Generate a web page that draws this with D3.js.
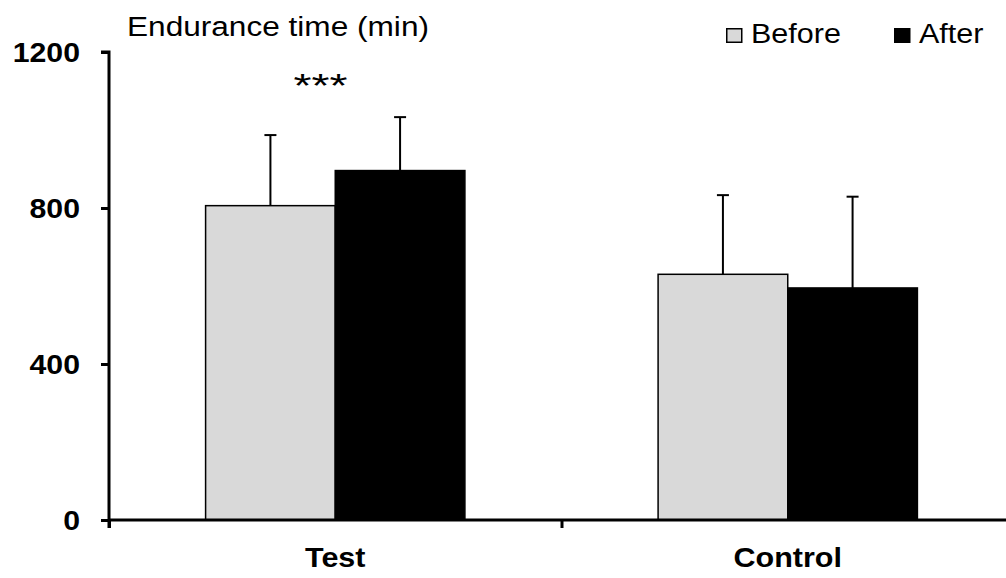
<!DOCTYPE html>
<html>
<head>
<meta charset="utf-8">
<script src="https://cdn.jsdelivr.net/npm/d3@7"></script>
<style>
  body { margin: 0; background: #fff; }
  svg { display: block; font-family: "Liberation Sans", Arial, sans-serif; }
</style>
</head>
<body>
<svg id="chart" width="1006" height="578"></svg>
<script>
// data
var categories = ["Test", "Control"];
var seriesNames = ["Before", "After"];
var beforeMeans = [806, 630];
var afterMeans = [896, 595];
var beforeSD = [181, 203];
var afterSD = [137, 234];
var yTicks = [0, 400, 800, 1200];
var seriesColors = ["#d9d9d9", "#000000"];

var svg = d3.select("#chart");
var stretch = 1.17; // text in the source is a bit wider than normal

// widen a text horizontally, like the original rendering
function widen(sel, f) {
    sel.each(function () {
        var w = this.getComputedTextLength();
        d3.select(this).attr("textLength", w * (f || stretch)).attr("lengthAdjust", "spacingAndGlyphs");
    });
}

var y = d3.scaleLinear().domain([0, 1200]).range([520, 52]);
var x0 = d3.scaleBand().domain(categories).range([109, 1014]).padding(0);
var x1 = d3.scaleBand().domain(seriesNames).range([0, x0.bandwidth()]).paddingInner(0).paddingOuter(0.745);
var edges = d3.scaleLinear().domain([0, categories.length]).range(x0.range());

var rows = categories.map(function (c, i) {
    return [
        {cat: c, s: "Before", v: beforeMeans[i], sd: beforeSD[i]},
        {cat: c, s: "After", v: afterMeans[i], sd: afterSD[i]}
    ];
});
var flat = d3.merge(rows);

// error bars first (behind the bars)
var eb = svg.append("g").attr("stroke", "#000").attr("stroke-width", 2);
flat.forEach(function (d) {
    var cx = x0(d.cat) + x1(d.s) + x1.bandwidth() / 2;
    eb.append("line").attr("x1", cx).attr("x2", cx).attr("y1", y(d.v)).attr("y2", y(d.v + d.sd));
    eb.append("line").attr("x1", cx - 6).attr("x2", cx + 6).attr("y1", y(d.v + d.sd)).attr("y2", y(d.v + d.sd));
});

// bars
svg.append("g").selectAll("rect")
    .data(flat)
    .enter().append("rect")
    .attr("x", function (d) { return x0(d.cat) + x1(d.s); })
    .attr("y", function (d) { return y(d.v); })
    .attr("width", x1.bandwidth())
    .attr("height", function (d) { return y(0) - y(d.v); })
    .attr("fill", function (d) { return seriesColors[seriesNames.indexOf(d.s)]; })
    .attr("stroke", "#000")
    .attr("stroke-width", 1.5);

// y axis
var yAxis = svg.append("g")
    .attr("transform", "translate(109,0)")
    .call(d3.axisLeft(y).tickValues(yTicks).tickSize(8).tickPadding(21).tickFormat(d3.format("d")));
yAxis.select(".domain").attr("stroke-width", 3).attr("d", "M-8,52H0V528");
yAxis.selectAll(".tick line").attr("stroke-width", 3);
yAxis.selectAll(".tick text")
    .attr("font-family", "Liberation Sans, Arial, sans-serif")
    .attr("font-size", 28).attr("font-weight", "bold").attr("fill", "#000")
    .attr("dy", "0.34em");
widen(yAxis.selectAll(".tick text"), 1.08);

// x axis with ticks at the category borders
var xAxis = svg.append("g")
    .attr("transform", "translate(0,520)")
    .call(d3.axisBottom(edges).tickValues(d3.range(categories.length + 1)).tickSize(8).tickFormat(""));
xAxis.select(".domain").attr("stroke-width", 3).attr("d", "M109,0H1014");
xAxis.selectAll(".tick line").attr("stroke-width", 3);

var catLabels = svg.append("g").selectAll("text")
    .data(categories)
    .enter().append("text")
    .attr("x", function (d) { return x0(d) + x0.bandwidth() / 2; })
    .attr("y", 567)
    .attr("text-anchor", "middle")
    .attr("font-size", 28).attr("font-weight", "bold")
    .text(function (d) { return d; });
widen(catLabels, 1.09);

// axis title
var title = svg.append("text")
    .attr("x", 127).attr("y", 36)
    .attr("font-size", 27)
    .text("Endurance time (min)");
widen(title, 1.17);

// significance
svg.append("text")
    .attr("x", x0("Test") + x1("Before") + x1.bandwidth() / 2 + 50).attr("y", 97)
    .attr("text-anchor", "middle")
    .attr("font-size", 34)
    .attr("textLength", 54).attr("lengthAdjust", "spacingAndGlyphs")
    .text("***");

// legend
var legendX = [726, 894];
seriesNames.forEach(function (s, i) {
    var g = svg.append("g").attr("transform", "translate(" + legendX[i] + ",28)");
    g.append("rect")
        .attr("x", 0.75).attr("y", 0.75)
        .attr("width", 15).attr("height", 13.5)
        .attr("fill", seriesColors[i])
        .attr("stroke", "#000").attr("stroke-width", 1.5);
    var t = g.append("text")
        .attr("x", 25).attr("y", 15)
        .attr("font-size", 27)
        .text(s);
    widen(t, 1.13);
});
</script>
</body>
</html>
